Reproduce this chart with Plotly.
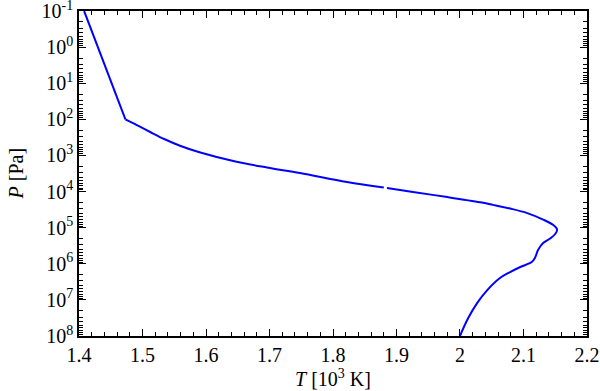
import plotly.graph_objects as go

# temperature profile, T in 10^3 K, P in Pa
# upper (radiative) part is a straight segment down to the knee
upper_temperature = [1.408, 1.473]
upper_pressure = [1.0e-1, 1.0e2]

# rest of the profile (None = small break in the line)
temperature = [1.473, 1.491, 1.512, 1.535, 1.559, 1.591, 1.643, 1.696, 1.748, 1.822, 1.880, None,
               1.885, 1.926, 1.980, 2.032, 2.052, 2.079, 2.106, 2.131, 2.147, 2.153, 2.150, 2.142,
               2.131, 2.123, 2.118, 2.113, 2.095, 2.079, 2.063, 2.043, 2.027, 2.013, 2.000]
pressure = [1.0e2, 1.44e2, 2.24e2, 3.56e2, 5.38e2, 8.32e2, 1.43e3, 2.16e3, 3.08e3, 5.46e3, 7.75e3, None,
            8.00e3, 1.03e4, 1.42e4, 1.99e4, 2.34e4, 2.96e4, 3.95e4, 5.97e4, 8.47e4, 1.13e5, 1.50e5, 2.00e5,
            2.67e5, 4.17e5, 6.92e5, 8.97e5, 1.23e6, 1.70e6, 2.49e6, 5.37e6, 1.23e7, 3.19e7, 1.0e8]

x_ticks = [1.4, 1.5, 1.6, 1.7, 1.8, 1.9, 2.0, 2.1, 2.2]
x_labels = ["1.4", "1.5", "1.6", "1.7", "1.8", "1.9", "2", "2.1", "2.2"]
y_exponents = [-1, 0, 1, 2, 3, 4, 5, 6, 7, 8]

y_ticks = [10.0 ** e for e in y_exponents]
y_labels = ["10<sup>%d</sup>" % e for e in y_exponents]
y_minor = [k * 10.0 ** e for e in y_exponents[:-1] for k in range(2, 10)]

font = dict(family="Liberation Serif", size=20, color="black")

fig = go.Figure()
fig.add_trace(go.Scatter(x=upper_temperature, y=upper_pressure, mode="lines",
                         line=dict(color="#0000ff", width=2)))
fig.add_trace(go.Scatter(x=temperature, y=pressure, mode="lines",
                         line=dict(color="#0000ff", width=2, shape="spline", smoothing=1.0),
                         connectgaps=False))

axis_common = dict(showline=True, linecolor="black", linewidth=1.5, mirror="allticks",
                   ticks="inside", ticklen=7, tickwidth=1, tickcolor="black",
                   showgrid=False, zeroline=False, tickfont=font, automargin=False,
                   ticklabeloverflow="allow")

fig.update_xaxes(range=[1.3999, 2.2001], tickmode="array", tickvals=x_ticks, ticktext=x_labels,
                 minor=dict(tickmode="linear", tick0=1.4, dtick=0.02, ticks="inside",
                            ticklen=4, tickcolor="black", showgrid=False),
                 **axis_common)
fig.update_yaxes(type="log", range=[8.001, -1.001], tickmode="array", tickvals=y_ticks, ticktext=y_labels,
                 minor=dict(tickmode="array", tickvals=y_minor, ticks="inside",
                            ticklen=4, tickcolor="black", showgrid=False),
                 **axis_common)

# axis titles placed by hand, like the matplotlib original
fig.add_annotation(text="<i>T</i> [10<sup>3</sup> K]", xref="paper", yref="paper", x=0.5, y=0,
                   xanchor="center", yanchor="top", yshift=-28, showarrow=False, font=font)
fig.add_annotation(text="<i>P</i> [Pa]", xref="paper", yref="paper", x=0, y=0.5, textangle=-90,
                   xanchor="center", yanchor="middle", xshift=-64, showarrow=False, font=font)

fig.update_layout(width=600, height=391, margin=dict(l=79, r=13, t=11, b=55),
                  plot_bgcolor="white", paper_bgcolor="white", showlegend=False,
                  font=font)

# drop the default page margin so the figure sits at the window corner
fig.write_html("out.html", config={"displayModeBar": False},
               post_script="document.body.style.margin='0';")
